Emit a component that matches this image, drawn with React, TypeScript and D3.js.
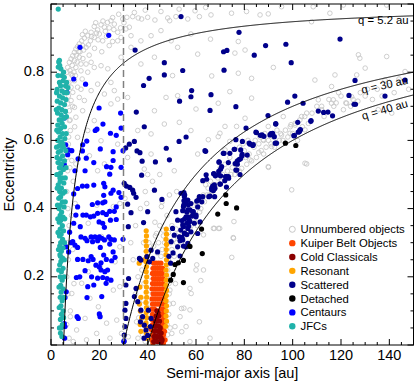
import React from "react";
import * as d3 from "d3";

type P = [number, number];

const unnumbered: P[] = [
  [45.5,0.978],[29.7,0.956],[31.4,0.961],[33.8,0.963],[36.1,0.959],[37.5,0.956],[40,0.961],[43,0.953],[48.3,0.959],[49.1,0.951],[51.7,0.963],[56.6,0.956],[59.6,0.98],[61.4,0.963],
  [17.9,0.934],[20.7,0.939],[22.1,0.932],[23.4,0.946],[24.8,0.951],[26.2,0.941],[24.1,0.93],[19.3,0.924],[16.6,0.917],[15.2,0.907],[13.8,0.9],[12.7,0.892],[11.7,0.883],[11,0.875],[10.3,0.868],[9.7,0.858],[9,0.848],[8.3,0.839],[7.6,0.829],[6.9,0.814],[6.6,0.8],
  [13.1,0.878],[14.5,0.873],[16.3,0.892],[17.9,0.902],[20,0.912],[27.6,0.917],[29,0.902],[31,0.927],[32.4,0.932],[33.1,0.907],[27.6,0.892],[24.1,0.878],[21.4,0.892],[9.7,0.834],[11.7,0.844],[12.4,0.824],[14.5,0.824],[16.6,0.829],[10.3,0.814],[12.4,0.804],[15.2,0.8],[17.9,0.814],[20.7,0.819],[8.3,0.795],[9.7,0.775],[11,0.756],[8.3,0.756],[11.7,0.726],[8.3,0.717],[9.7,0.697],[7.6,0.687],[10.3,0.668],[13.1,0.687],[13.8,0.717],[16.6,0.746],[19.3,0.765],[24.8,0.77],[26.2,0.746],[22.1,0.736],[27.6,0.721],[29,0.844],[33.1,0.873],[37.2,0.892],[41.4,0.907],[45.5,0.922],[52.4,0.873],[49.7,0.892],[57.9,0.912],[60.7,0.853],[42.8,0.844],[37.2,0.824],[50.3,0.79],[47.6,0.726],[52.4,0.731],[60,0.692],[42.8,0.687],[53.1,0.653],[46.9,0.648],[35.9,0.629],[41.4,0.619],[57.9,0.629],[60.7,0.56],[51,0.511],[31.7,0.726],[24.8,0.707],[17.9,0.658],[15.2,0.629],[20.7,0.599],[27.6,0.589],[11,0.609],[8.3,0.57],[15.9,0.555],[22.1,0.531],[31.7,0.55],[38.6,0.516],[41.4,0.56],[10.3,0.531],[19.3,0.511],
  [6.9,0.707],[7.6,0.658],[8,0.629],[7.2,0.589],[8.6,0.541],[6.9,0.511],[6.2,0.746],[9,0.741],[7.4,0.77],[8.8,0.79],[10.5,0.85],[12,0.86],[13,0.91],[14.2,0.92],[18.5,0.945],[21.5,0.95],[25.5,0.96],[28,0.97],[34.5,0.975],[39,0.982],[53,0.985],[64,0.99],
  [7.8,0.805],[8.8,0.82],[9.5,0.8],[10.8,0.83],[11.5,0.86],[13.5,0.865],[15.5,0.88],[16.8,0.905],[18.8,0.915],[22.5,0.92],[23,0.905],[26,0.925],[28.8,0.93],[30.2,0.945],[19.5,0.895],[15.8,0.85],[13.2,0.84],[10.1,0.79],[12.9,0.78],[7.2,0.73],[8.9,0.7],[7.9,0.66],[9.8,0.64],[7.3,0.61],[6.6,0.55],[7.8,0.52],[9.2,0.48],[18,0.87],[21,0.86],[25.5,0.89],[23.5,0.81],[12.4,0.75],
  [66.2,0.968],[74.7,0.973],[80.9,0.978],[86.5,0.968],[89.9,0.971],[95.4,0.992],[108.5,0.992],[115.4,0.973],[121,0.997],[138.9,0.997],[107.8,0.948],[66,0.897],[77.5,0.89],[80.3,0.865],[76.1,0.856],[92,0.814],[66.5,0.789],[83,0.782],[77.5,0.797],[74,0.743],[83,0.724],[69.2,0.709],[109.2,0.777],[116.1,0.758],[117.5,0.792],[130,0.812],[127.8,0.841],[127.2,0.851],[138.9,0.846],[126.5,0.792],[141,0.68],[135.4,0.69],[122.3,0.709],[116.1,0.709],[105.1,0.631],[96.1,0.67],[89.9,0.641],[98.9,0.621],[80.3,0.665],[76.8,0.641],[74,0.597],[72,0.572],[69.2,0.611],[82.3,0.543],[87.8,0.602],[91.3,0.582],[95.4,0.616],[101,0.645],[103.7,0.67],[110.6,0.719],[116.8,0.719],[124.4,0.728],[112,0.7],[105.8,0.68],[99.3,0.646],[105.1,0.533],[89.9,0.523],[65.1,0.602],[69.9,0.621],[72,0.641],[78.9,0.518],[146.5,0.802],[138.2,0.777],
  [78,0.58],[80,0.57],[82,0.56],[84,0.58],[86,0.59],[88,0.6],[90,0.6],[92,0.61],[85,0.55],[87,0.57],[89,0.58],[91,0.59],[83,0.54],[81,0.53],[79,0.55],[77,0.54],[75,0.52],[73,0.51],[71,0.5],[69,0.49],[67,0.47],[65,0.46],[63,0.44],[61,0.43],[59,0.41],[57,0.38],[74,0.55],[72,0.53],[70,0.52],[68,0.5],[66,0.48],[64,0.47],[76,0.5],[78,0.51],[62,0.4],[60,0.38],[58,0.35],[56,0.33],[54,0.3],[55,0.36],[57,0.4],[95,0.62],[97,0.63],[99,0.64],[101,0.65],[103,0.66],[96,0.6],[98,0.61],[100,0.62],[105,0.67],[110,0.7],[108,0.68],[112,0.69],[115,0.72],[118,0.71],[120,0.73],[122,0.71],[125,0.72],[128,0.74],[130,0.73],[135,0.75],[140,0.76],[145,0.77],
  [79.5,0.59],[81.5,0.6],[84.5,0.6],[86.5,0.61],[88.5,0.62],[93.5,0.63],[94.5,0.6],[92.5,0.58],[88,0.56],[86,0.565],[80.5,0.55],[76.5,0.53],[74.5,0.5],[72.5,0.49],[70.5,0.48],[68.5,0.47],[66.5,0.45],[64.5,0.44],[62.5,0.43],[60.5,0.41],[58.5,0.38],[61.5,0.39],[63.5,0.42],[65.5,0.44],[59.5,0.36],[57.5,0.34],[56.5,0.36],[55.5,0.32],[60.5,0.35],[106.5,0.65],[104,0.64],[113,0.67],[117,0.7],[121,0.69],[124,0.7],[127,0.715],[131,0.75],[133,0.72],[137,0.73],[142,0.74],[148,0.75],[144,0.78],[119,0.74],[102,0.6],
  [90,0.521],[105.8,0.531],[99.6,0.455],[75.5,0.313],[74.8,0.257],[67.2,0.342],[69.3,0.342],[63.1,0.323],[60.3,0.235],[63.1,0.22],[62,0.189],[57.5,0.166],[55,0.108],[57.5,0.103],[54.1,0.039],[65.8,0.02],[57.5,0.01],[75.4,0.315],[75.7,0.362],[67.6,0.342],[69.8,0.342],
  [10,0.415],[19,0.41],[25.8,0.406],[28.5,0.415],[30.6,0.43],[15.4,0.357],[20.9,0.318],[24.4,0.308],[28.5,0.288],[26.5,0.244],[15.4,0.215],[20.3,0.23],[12.7,0.181],[8.6,0.151],[16.1,0.137],[19.6,0.112],[25.8,0.161],[28.5,0.171],[8,0.083],[14.1,0.078],[20.3,0.085],[23,0.064],[27.2,0.073],[10.6,0.044],[18.9,0.034],[9.2,0.01],[14.7,0.015],[24.4,0.02],[29.2,0.034],[32,0.024],[35.4,0.068],[42.3,0.244],[43.7,0.327],[45.7,0.406],[39.6,0.415],[46.4,0.337],[47.8,0.2],[49.2,0.161],[50.6,0.122],[53.4,0.083],[50,0.034],[55.9,0.054],[61.4,0.068],[58,0.151],[60,0.22],[54,0.107],[51.3,0.054],
  [38,0.25],[38.5,0.18],[40.5,0.3],[41,0.2],[41,0.12],[40.8,0.05],[48.5,0.25],[48.8,0.18],[49,0.12],[48,0.06],[47,0.3],[46,0.28],[44,0.27],[42.5,0.29],[49.5,0.3],[50,0.28],[51,0.26],[52,0.3],[53,0.33],[50,0.35],[45,0.35],[43,0.36],[48,0.38],[46,0.42],[49,0.44],[52,0.45],[44,0.02],[46.5,0.01],[42,0.01],[39,0.01],[36,0.02],[37,0.1],[35,0.15],[36,0.2],[34,0.25],[35,0.35],[33,0.3],[37,0.4],[39,0.45],[42,0.48],[40,0.5],[45,0.5],
  [40.2,0.27],[40.8,0.16],[40.3,0.09],[41.2,0.03],[48.6,0.33],[48.3,0.22],[48.9,0.15],[48.7,0.09],[48.2,0.03],[49.3,0.05],[50.2,0.2],[51.5,0.18],[50.8,0.31],[51.8,0.34],[38.3,0.3],[37.6,0.22],[38.2,0.13],[38.9,0.07],[37.9,0.03],[36.3,0.08],[44.5,0.3],[43.2,0.32],[46.5,0.32],[45.5,0.26],
  [6.5,0.45],[7,0.4],[7.5,0.35],[6.8,0.3],[7.2,0.25],[6.5,0.2],[7,0.15],[8,0.1],[6.5,0.06],[7.5,0.02],[8.5,0.38],[9,0.28],[9.5,0.18]
];

const kbo: P[] = [
  [42.5,0.24],[43.5,0.24],[44.5,0.24],[45.5,0.24],
  [42.2,0.225],[43.2,0.225],[44.2,0.225],[45.2,0.225],[46.2,0.225],
  [42,0.21],[43,0.21],[44,0.21],[45,0.21],[46,0.21],
  [42.3,0.195],[43.3,0.195],[44.3,0.195],[45.3,0.195],[46.3,0.195],
  [42,0.18],[43,0.18],[44,0.18],[45,0.18],[46.2,0.18],
  [41.8,0.165],[42.8,0.165],[43.8,0.165],[44.8,0.165],[45.8,0.165],[46.6,0.165],
  [42.2,0.15],[43.2,0.15],[44.2,0.15],[45.2,0.15],[46.2,0.15],
  [41.8,0.135],[42.8,0.135],[43.8,0.135],[44.8,0.135],[45.8,0.135],[46.8,0.135],
  [42,0.12],[43,0.12],[44,0.12],[45,0.12],[46,0.12],[47,0.12],
  [41.8,0.105],[42.8,0.105],[45.5,0.105],[46.4,0.105],[47,0.1],
  [42,0.09],[42.6,0.08],[45.8,0.09],[46.5,0.09],[47.2,0.085],
  [41.8,0.075],[46.3,0.075],[47,0.07],
  [42,0.06],[46.1,0.06],[46.8,0.055],
  [41.6,0.045],[42.4,0.045],[46.3,0.045],[47,0.04],
  [42,0.03],[46.6,0.03],
  [41.8,0.015],[46.4,0.018],[47.2,0.015],
  [42.2,0.005],[46.5,0.005]
];

const coldClassicals: P[] = [
  [43.8,0.1],[44.3,0.095],[43.5,0.085],[44.6,0.085],[43.2,0.07],[44,0.072],[44.9,0.07],
  [43,0.055],[43.8,0.057],[44.6,0.055],[45.2,0.05],[42.8,0.04],[43.5,0.042],[44.2,0.04],
  [45,0.038],[45.6,0.035],[42.6,0.025],[43.3,0.027],[44,0.025],[44.8,0.025],[45.5,0.022],
  [42.5,0.01],[43.2,0.012],[44,0.01],[44.8,0.01],[45.6,0.008],[46,0.015]
];

const resonant: P[] = [
  [39.4,0.335],[39.5,0.32],[39.3,0.305],[39.5,0.29],[39.4,0.275],[39.6,0.26],[39.3,0.245],[39.5,0.23],[39.4,0.215],[39.6,0.2],[39.3,0.185],[39.5,0.17],[39.4,0.155],[39.6,0.14],[39.3,0.125],[39.5,0.11],[39.4,0.095],[39.6,0.08],[39.3,0.065],[39.5,0.05],[39.4,0.035],[39.5,0.02],
  [38.8,0.25],[36.5,0.24],[36.8,0.17],[37.2,0.14],[36.6,0.12],[37,0.1],[37.5,0.08],[36.9,0.06],[37.2,0.04],
  [47.7,0.34],[47.8,0.325],[47.6,0.31],[47.8,0.295],[47.7,0.28],[47.6,0.265],[47.8,0.25],[47.7,0.235],[47.6,0.22],[47.8,0.205],[47.7,0.19],[47.6,0.175],[47.8,0.16],[47.7,0.145],[47.6,0.13],[47.8,0.115],[47.7,0.1],[47.6,0.085],[47.8,0.07],[47.5,0.055]
];

const scattered: P[] = [
  [53.8,0.963],[34.8,0.865],[46.9,0.828],[54.5,0.805],[46.9,0.792],[40.6,0.782],[38.3,0.761],[58.2,0.746],[57.9,0.728],[53.2,0.715],[35.3,0.683],[38.6,0.64],[34.5,0.597],[32.4,0.589],[30.9,0.578],[35.6,0.569],[53,0.597],[55.9,0.61],[47.7,0.577],[36.8,0.564],[37.7,0.539],[43.2,0.537],[49,0.543],
  [77.8,0.917],[119.6,0.897],[71.4,0.86],[72.8,0.864],[88.8,0.878],[97.2,0.882],[84.1,0.85],[99.4,0.828],[71.6,0.806],[66.2,0.734],[65.8,0.688],[76.5,0.699],[125.8,0.776],[123.3,0.732],[138.2,0.73],[125.4,0.706],[126,0.706],[146.5,0.777],[97.9,0.712],[100.9,0.73],[104.3,0.709],[110.6,0.686],[112.8,0.682],[114.6,0.683],[116.5,0.672],[89.8,0.673],[107.6,0.658],[80.7,0.636],[93,0.649],[103,0.63],[84.8,0.624],[86.6,0.615],[88.1,0.612],[91,0.62],[92.4,0.611],[92.8,0.592],[100.5,0.614],[102.3,0.624],[76.5,0.602],[82,0.592],[83.7,0.588],[75.8,0.574],[74,0.562],[78.5,0.572],[77.8,0.544],[79,0.555],[81.2,0.557],[71.3,0.562],[69.6,0.536],[70.6,0.523],[77.1,0.53],[76.5,0.513],[67.4,0.503],[69.2,0.499],[72.2,0.494],[73.4,0.494],[63.7,0.57],[69.4,0.509],[67.6,0.47],[69.9,0.472],[67.8,0.46],[66.5,0.46],
  [93,0.648],[102.1,0.653],[107.5,0.656],[85,0.623],[87.3,0.616],[90.6,0.616],[91.7,0.621],[82.4,0.589],[83.5,0.585],[79.2,0.597],[93.3,0.592],[100.7,0.614],[102.8,0.626],[103.2,0.632],[64,0.568],[71.6,0.562],[76,0.574],[79.1,0.559],[78.4,0.546],[77.1,0.539],[69.5,0.537],[73.4,0.535],[76.2,0.532],[70.2,0.516],[67.3,0.502],[68,0.496],[70.2,0.496],[72.6,0.494],[73.5,0.489],[76.9,0.513],[78.2,0.5],[64.2,0.499],[62.8,0.482],[64.4,0.486],[70.1,0.472],[71.9,0.482],[66.9,0.466],[66.5,0.455],[67.7,0.459],[67.2,0.453],[65.8,0.437],[72.6,0.463],[62.8,0.435],[65.3,0.435],[67.7,0.435],[55,0.447],[55.3,0.44],[55,0.423],[55.9,0.416],[56.8,0.411],[54.8,0.406],[60.3,0.422],[61,0.425],[62.4,0.42],
  [54.5,0.394],[56.2,0.39],[57.5,0.396],[58.9,0.391],[58.4,0.378],[56.7,0.376],[55.3,0.37],[54.2,0.365],[56.2,0.357],[57.5,0.362],[57,0.349],[54.8,0.347],[53.7,0.337],[55.3,0.328],[56.2,0.324],[54.2,0.316],[53.4,0.306],[54.8,0.29],[55.9,0.288],[53.4,0.261],[61.7,0.361],[60,0.376],
  [37.5,0.498],[30.3,0.474],[31.2,0.466],[32.6,0.462],[33.8,0.454],[34.2,0.445],[35.2,0.433],[31.7,0.413],[33.1,0.388],[40,0.391],[42.8,0.454],[45.9,0.427],[38.3,0.359],[32,0.347],[44.1,0.273],[41.4,0.278],[39.7,0.259],[40.7,0.244],[42.1,0.254],[36.6,0.254],[37.2,0.249],[32.1,0.195],[31,0.176],[35.2,0.166],[31,0.122],[30.6,0.102],[31,0.078],[30.6,0.054],[30.3,0.029],[34.5,0.142],[35.9,0.127],[37.2,0.102],[37.9,0.083],[37,0.068],[38.6,0.058],[39.3,0.044],[40,0.028],[40.3,0.102],[41.4,0.078],[41.1,0.054],[30.2,0.01],[38.5,0.02],
  [53.8,0.445],[55.2,0.435],[56.6,0.425],[57.9,0.415],[54.9,0.41],[56.6,0.396],[58.6,0.391],[60,0.381],[55.9,0.376],[57.2,0.366],[59.3,0.357],[54.5,0.352],[56.6,0.342],[57.9,0.332],[60.7,0.327],[55.2,0.327],[53.1,0.317],[54.5,0.308],[56.6,0.298],[52.4,0.288],[49.7,0.303],[51,0.322],[50.3,0.342],[52.4,0.366],[51.7,0.391],[60.7,0.405],[61.4,0.435],[50.5,0.27],[48.8,0.26],[49.5,0.24]
];

const detached: P[] = [
  [97,0.592],[101.3,0.585],[72.3,0.44],[72.5,0.415],[76.8,0.402],[69,0.384],[62.3,0.34],[57.5,0.289],[62.6,0.268],[54.8,0.248],[54.8,0.183],[51.3,0.236],[52.7,0.241],[50.6,0.207],[49.5,0.19]
];

const centaurs: P[] = [
  [23.9,0.908],[12,0.873],[9.4,0.78],[14.3,0.765],[6.6,0.741],[19.9,0.695],[28.8,0.68],[5.5,0.666],[21.5,0.648],[29,0.636],[18.3,0.629],[19,0.633],[24.6,0.621],[27,0.615],[14.8,0.598],[13.1,0.587],[6.1,0.587],[7.2,0.572],[8.6,0.57],[20.4,0.575],[13,0.569],[25.7,0.567],[29.8,0.57],[6.9,0.558],[11.2,0.546],[14.6,0.548],[17.7,0.535],[25.7,0.541],[23,0.523],[24.8,0.521],[29,0.521],[14.1,0.511],[9.9,0.511],[5.5,0.529],
  [24.3,0.501],[17.7,0.469],[21.8,0.474],[22.3,0.464],[13,0.466],[14.9,0.466],[11,0.459],[9.4,0.443],[21.8,0.439],[22.3,0.42],[21.4,0.417],[19.3,0.417],[17.1,0.412],[24.8,0.445],[25.7,0.454],[28.1,0.447],[29,0.433],[24.3,0.392],[26.2,0.392],[27,0.405],[19.3,0.386],[21.4,0.388],[22.9,0.383],[13.2,0.381],[14.6,0.381],[16.3,0.376],[17.7,0.378],[10.3,0.381],[11,0.405],[9.4,0.357],[12.1,0.347],[19.9,0.361],[21.4,0.357],[22.1,0.345],[24.6,0.366],[27,0.368],[7.7,0.331],
  [12.4,0.317],[14.1,0.313],[14.9,0.306],[16.6,0.317],[18.2,0.317],[20,0.317],[17.2,0.303],[19.3,0.306],[21,0.313],[22.1,0.308],[23.9,0.317],[24.8,0.31],[26.2,0.308],[24.3,0.296],[29.8,0.31],[8.3,0.3],[9,0.303],[6.3,0.288],[7.3,0.273],[9.9,0.293],[11,0.286],[20.4,0.286],[16.6,0.259],[17.4,0.251],[25.7,0.273],[26.5,0.257],[25.1,0.247],[21.8,0.264],[22.9,0.251],[20.7,0.241],[11,0.251],[13.2,0.251],[15.4,0.247],[18.6,0.234],[20,0.229],[20.7,0.22],[22.3,0.215],[23.4,0.22],[14.1,0.218],[11.9,0.2],[10.5,0.198],[16.8,0.2],[19.3,0.196],[21.4,0.198],[23.2,0.195],[24.8,0.19],[17.7,0.176],[15.2,0.171],[22.8,0.181],[6.3,0.156],[21,0.142],[14.9,0.139],[20,0.091],[10.8,0.083],[5.5,0.063],[5.8,0.139],[11.3,0.078],[20.3,0.083],[5.8,0.054],[30.2,0.012],[5.6,0.02]
];

const jfcs: P[] = [
  [3,0.985],[3.2,0.83],[3.6,0.82],[3.0,0.815],[3.5,0.835],[4.5,0.79],[5.5,0.785],[6.5,0.77],[5,0.775],[3.5,0.77],[4,0.76],[6,0.76],[7,0.755],[2.5,0.75],[4.5,0.745],[5.5,0.74],[3.5,0.73],[4.8,0.725],[2.6,0.715],[4,0.71],[5.6,0.705],[3.2,0.695],[4.5,0.69],[6,0.685],[2.7,0.68],[4.2,0.675],[5.3,0.665],[3.4,0.66],[4.6,0.65],[2.8,0.645],[5.6,0.64],[4,0.635],[3.1,0.625],[4.8,0.62],[3.8,0.61],[5.7,0.605],[2.8,0.6],[4.4,0.595],[3.5,0.585],[5.2,0.58],[4,0.57],[3,0.565],[4.8,0.555],[3.8,0.545],[5.6,0.54],[2.9,0.535],[4.3,0.53],[3.5,0.52],[5.1,0.515],[4,0.505],[3.1,0.5],[4.6,0.49],[3.8,0.48],[5.3,0.475],[3,0.47],[4.3,0.46],[3.6,0.45],[5,0.445],[4,0.435],[3.2,0.43],[4.7,0.42],[3.8,0.41],[5.4,0.405],[3.3,0.4],[4.4,0.39],[3.8,0.38],[5,0.375],[4,0.365],[3.4,0.36],[4.7,0.35],[3.8,0.34],[5.2,0.335],[4.2,0.325],[3.5,0.32],[4.8,0.31],[4,0.3],[3.6,0.29],[5,0.285],[4.3,0.275],[3.7,0.265],[4.8,0.255],[4.1,0.245],[3.6,0.235],[5,0.225],[4.3,0.215],[3.8,0.2],[4.6,0.19],[4,0.175],[5,0.165],[4.2,0.155],[3.8,0.14],[4.6,0.13],[4.1,0.115],[5,0.1],[4.3,0.09],[3.9,0.075],[4.7,0.06],[4.2,0.05],[3.9,0.035],[4.5,0.025],
  [2.3,0.74],[6.2,0.72],[2.2,0.69],[6.4,0.67],[2.4,0.63],[6.3,0.62],[2.3,0.58],[6.1,0.57],[2.5,0.55],[6.2,0.52],[2.4,0.5],[5.9,0.49],[2.6,0.46],[5.8,0.45],[2.7,0.41],[5.9,0.42],[2.8,0.37],[5.7,0.37],[2.9,0.33],[5.6,0.3],[3.1,0.28],[5.5,0.25],[3.2,0.22],[5.4,0.2],[3.3,0.17],[5.3,0.14],[3.4,0.11],[5.2,0.08],[3.5,0.05],[6.6,0.74],[2.9,0.79],[5.2,0.8],[4.1,0.81],[3.9,0.66],[4.9,0.59],[3.7,0.49],[4.5,0.37],[3.9,0.26]
];

const qValues = [5.2, 30, 40];
const qLabels = ["q = 5.2 au", "q = 30 au", "q = 40 au"];
const xTicks = [0, 20, 40, 60, 80, 100, 120, 140];
const yTicks = [0.2, 0.4, 0.6, 0.8];
const legendNames = ["Unnumbered objects", "Kuiper Belt Objects", "Cold Classicals", "Resonant", "Scattered", "Detached", "Centaurs", "JFCs"];
const legendColors = ["none", "#ff4500", "#8b0000", "#ffa500", "#00008b", "#000000", "#0000ff", "#20b2aa"];

const W = 415, H = 381;
const L = 51, R = 413.5, T = 4, B = 345;
const FONT = "'Liberation Sans', Arial, Helvetica, sans-serif";

export default function App() {
  const x = d3.scaleLinear().domain([0, 150]).range([L, R]);
  const y = d3.scaleLinear().domain([0, 1]).range([B, T]);

  const minorX = d3.range(0, 151, 5);
  const minorY = d3.range(0, 1.0001, 0.05);

  const curve = (q: number) => {
    const pts: P[] = [];
    for (let a = q; a <= 150; a += 0.25) pts.push([a, Math.max(0, 1 - q / a)]);
    pts.push([150, 1 - q / 150]);
    return d3.line<P>().x(d => x(d[0])).y(d => y(d[1]))(pts) || "";
  };

  const labelPos = (q: number, off: number) => {
    const aEnd = 148;
    const px = x(aEnd), py = y(1 - q / aEnd);
    const am = 139;
    const slope = (q / (am * am)) * ((B - T) / 1) / ((R - L) / 150);
    const ang = -Math.atan(slope) * 180 / Math.PI;
    return { px, py: py + off, ang };
  };

  const filled = (data: P[], color: string, key: string) =>
    data.map((d, i) => (
      <circle key={key + i} cx={x(d[0])} cy={y(d[1])} r={2.6} fill={color} />
    ));

  return (
    <svg width={W} height={H} style={{ position: "absolute", left: 0, top: 0, background: "#fff" }} fontFamily={FONT}>
      <defs>
        <clipPath id="plot"><rect x={L} y={T} width={R - L} height={B - T} /></clipPath>
      </defs>
      <rect x={0} y={0} width={W} height={H} fill="#fff" />
      <g clipPath="url(#plot)">
        {unnumbered.map((d, i) => (
          <circle key={"u" + i} cx={x(d[0])} cy={y(d[1])} r={2.3} fill="none" stroke="#c8c8c8" strokeWidth={0.9} />
        ))}
        {filled(kbo, legendColors[1], "k")}
        {filled(coldClassicals, legendColors[2], "c")}
        {filled(resonant, legendColors[3], "r")}
        {filled(scattered, legendColors[4], "s")}
        {filled(detached, legendColors[5], "d")}
        {filled(centaurs, legendColors[6], "ce")}
        {filled(jfcs, legendColors[7], "j")}
        {qValues.map(q => (
          <path key={"q" + q} d={curve(q)} fill="none" stroke="#000" strokeWidth={1} />
        ))}
        <line x1={x(30)} x2={x(30)} y1={T} y2={B} stroke="#808080" strokeWidth={1.5} strokeDasharray="7,4" />
      </g>
      {qValues.map((q, i) => {
        const p = labelPos(q, i === 0 ? 8 : 10.5);
        return (
          <text key={"ql" + i} x={p.px} y={p.py} fontSize={11.3} textAnchor="end" transform={`rotate(${i === 0 ? 0 : p.ang},${p.px},${p.py})`}>{qLabels[i]}</text>
        );
      })}
      <rect x={L} y={T} width={R - L} height={B - T} fill="none" stroke="#000" strokeWidth={1} />
      {minorX.map(v => {
        const len = v % 20 === 0 ? 6 : 3;
        return (
          <g key={"tx" + v}>
            <line x1={x(v)} x2={x(v)} y1={B} y2={B - len} stroke="#000" />
            <line x1={x(v)} x2={x(v)} y1={T} y2={T + len} stroke="#000" />
          </g>
        );
      })}
      {minorY.map((v, i) => {
        const len = i % 4 === 0 ? 6 : 3;
        return (
          <g key={"ty" + i}>
            <line x1={L} x2={L + len} y1={y(v)} y2={y(v)} stroke="#000" />
            <line x1={R} x2={R - len} y1={y(v)} y2={y(v)} stroke="#000" />
          </g>
        );
      })}
      {xTicks.map(v => (
        <text key={"xl" + v} x={x(v)} y={360} fontSize={14.5} textAnchor="middle">{v}</text>
      ))}
      {yTicks.map(v => (
        <text key={"yl" + v} x={44} y={y(v) + 3.5} fontSize={14.5} textAnchor="end">{v.toFixed(1)}</text>
      ))}
      <text x={(L + R) / 2} y={377.5} fontSize={14.5} textAnchor="middle">Semi-major axis [au]</text>
      <text x={14} y={(T + B) / 2} fontSize={14.5} textAnchor="middle" transform={`rotate(-90,14,${(T + B) / 2})`}>Eccentricity</text>
      {legendNames.map((name, i) => {
        const cy = 229.3 + i * 13.85;
        return (
          <g key={"lg" + i}>
            {i === 0 ? (
              <circle cx={292.3} cy={cy} r={3} fill="none" stroke="#c8c8c8" strokeWidth={1} />
            ) : (
              <circle cx={292.3} cy={cy} r={3.2} fill={legendColors[i]} />
            )}
            <text x={300.5} y={cy + 4} fontSize={11.3}>{name}</text>
          </g>
        );
      })}
    </svg>
  );
}
